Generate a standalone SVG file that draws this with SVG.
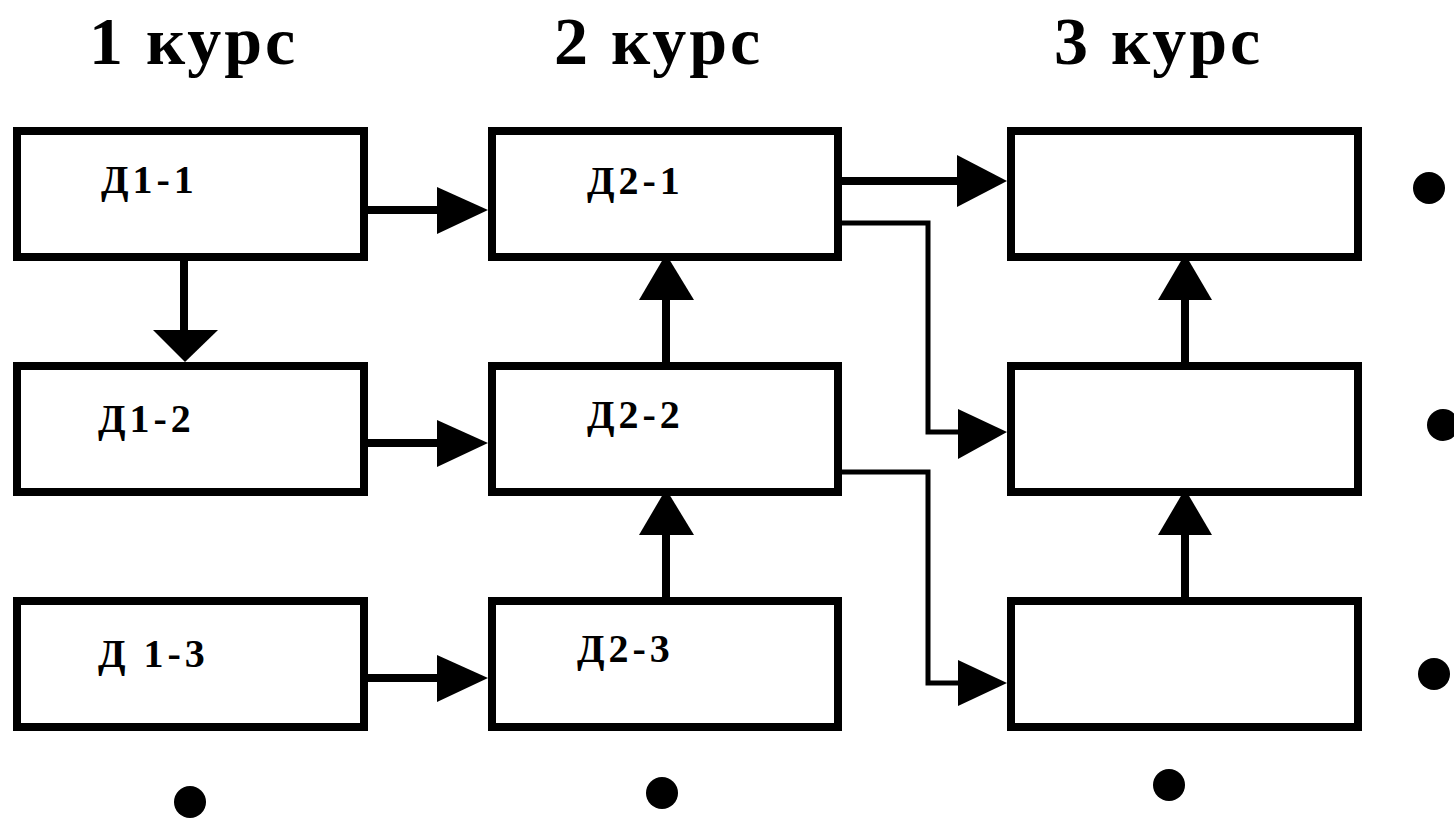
<svg xmlns="http://www.w3.org/2000/svg" width="1454" height="818" viewBox="0 0 1454 818">
  <style>
    .box { fill: #fff; stroke: #000; stroke-width: 8; }
    .title { font-family: "Liberation Serif", "Times New Roman", serif; font-weight: bold; font-size: 68px; letter-spacing: 3px; fill: #000; }
    .label { font-family: "Liberation Serif", "Times New Roman", serif; font-weight: bold; font-size: 40px; letter-spacing: 4px; fill: #000; }
    .wire { fill: none; stroke: #000; stroke-width: 8; }
    .wire-thin { fill: none; stroke: #000; stroke-width: 5; }
    .head { fill: #000; }
    .dot { fill: #000; }
  </style>
  <rect width="1454" height="818" fill="#fff"/>

  <!-- column headings -->
  <g id="headings">
    <text class="title" x="89" y="64">1 курс</text>
    <text class="title" x="554" y="64">2 курс</text>
    <text class="title" x="1054" y="64">3 курс</text>
  </g>

  <!-- connectors -->
  <g id="connectors">
    <!-- Д1-1 → Д2-1 -->
    <line class="wire" x1="368" y1="210" x2="440" y2="210"/>
    <polygon class="head" points="437,187 488,210 437,234"/>
    <!-- Д1-1 → Д1-2 -->
    <line class="wire" x1="184" y1="261" x2="184" y2="333"/>
    <polygon class="head" points="153,330 218,330 185,362"/>
    <!-- Д1-2 → Д2-2 -->
    <line class="wire" x1="368" y1="443" x2="440" y2="443"/>
    <polygon class="head" points="437,420 488,443 437,467"/>
    <!-- Д 1-3 → Д2-3 -->
    <line class="wire" x1="368" y1="678" x2="440" y2="678"/>
    <polygon class="head" points="437,655 488,678 437,702"/>
    <!-- Д2-2 → Д2-1 -->
    <line class="wire" x1="666" y1="362" x2="666" y2="297"/>
    <polygon class="head" points="639,300 694,300 666,254"/>
    <!-- Д2-3 → Д2-2 -->
    <line class="wire" x1="666" y1="597" x2="666" y2="532"/>
    <polygon class="head" points="639,535 694,535 666,489"/>
    <!-- Д2-1 → column 3, row 1 -->
    <line class="wire" x1="842" y1="181" x2="960" y2="181"/>
    <polygon class="head" points="957,155 1007,181 957,207"/>
    <!-- Д2-1 → column 3, row 2 -->
    <polyline class="wire-thin" points="842,223 928,223 928,432 961,432"/>
    <polygon class="head" points="958,409 1007,432 958,459"/>
    <!-- Д2-2 → column 3, row 3 -->
    <polyline class="wire-thin" points="842,472 928,472 928,683 961,683"/>
    <polygon class="head" points="958,660 1007,683 958,706"/>
    <!-- column 3: row 2 → row 1 -->
    <line class="wire" x1="1185" y1="362" x2="1185" y2="297"/>
    <polygon class="head" points="1158,300 1212,300 1185,254"/>
    <!-- column 3: row 3 → row 2 -->
    <line class="wire" x1="1185" y1="597" x2="1185" y2="532"/>
    <polygon class="head" points="1158,535 1212,535 1185,489"/>
  </g>

  <!-- course 1 -->
  <g id="d1-1">
    <rect class="box" x="17" y="131" width="347" height="126"/>
    <text class="label" x="101" y="193">Д1-1</text>
  </g>
  <g id="d1-2">
    <rect class="box" x="17" y="366" width="347" height="126"/>
    <text class="label" x="98" y="432">Д1-2</text>
  </g>
  <g id="d1-3">
    <rect class="box" x="17" y="601" width="347" height="126"/>
    <text class="label" x="98" y="667">Д 1-3</text>
  </g>

  <!-- course 2 -->
  <g id="d2-1">
    <rect class="box" x="492" y="131" width="346" height="126"/>
    <text class="label" x="587" y="194">Д2-1</text>
  </g>
  <g id="d2-2">
    <rect class="box" x="492" y="366" width="346" height="126"/>
    <text class="label" x="587" y="428">Д2-2</text>
  </g>
  <g id="d2-3">
    <rect class="box" x="492" y="601" width="346" height="126"/>
    <text class="label" x="577" y="662">Д2-3</text>
  </g>

  <!-- course 3 -->
  <g id="d3-1">
    <rect class="box" x="1011" y="131" width="347" height="126"/>
  </g>
  <g id="d3-2">
    <rect class="box" x="1011" y="366" width="347" height="126"/>
  </g>
  <g id="d3-3">
    <rect class="box" x="1011" y="601" width="347" height="126"/>
  </g>

  <!-- continuation dots -->
  <g id="dots">
    <circle class="dot" cx="1429" cy="188" r="16"/>
    <circle class="dot" cx="1443" cy="425" r="16"/>
    <circle class="dot" cx="1434" cy="674" r="16"/>
    <circle class="dot" cx="190" cy="802" r="16"/>
    <circle class="dot" cx="662" cy="793" r="16"/>
    <circle class="dot" cx="1169" cy="785" r="16"/>
  </g>
</svg>
